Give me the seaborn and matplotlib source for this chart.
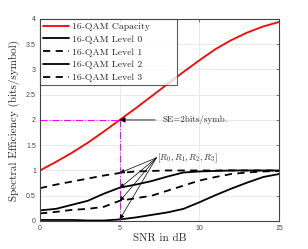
import matplotlib
matplotlib.use("Agg")
import matplotlib.pyplot as plt
import seaborn as sns

# SNR grid and spectral efficiency curves
snr = list(range(16))
capacity = [1.0, 1.17, 1.35, 1.55, 1.77, 2.0, 2.23, 2.47, 2.71, 2.95, 3.18, 3.4, 3.58, 3.73, 3.85, 3.94]
level0 = [0.02, 0.02, 0.02, 0.01, 0.01, 0.03, 0.07, 0.12, 0.17, 0.24, 0.37, 0.51, 0.64, 0.76, 0.87, 0.93]
level1 = [0.15, 0.18, 0.22, 0.24, 0.28, 0.4, 0.45, 0.5, 0.6, 0.7, 0.8, 0.87, 0.93, 0.96, 0.98, 0.99]
level2 = [0.21, 0.24, 0.32, 0.4, 0.54, 0.66, 0.72, 0.79, 0.88, 0.96, 0.98, 0.99, 1.0, 1.0, 1.0, 1.0]
level3 = [0.65, 0.72, 0.78, 0.84, 0.9, 0.95, 0.98, 0.99, 1.0, 1.0, 1.0, 1.0, 1.0, 1.0, 1.0, 1.0]
rate_points = [0.95, 0.65, 0.39, 0.03]

sns.set_style("white")
plt.rcParams["font.family"] = ["cmr10", "DejaVu Serif"]
plt.rcParams["mathtext.fontset"] = "cm"
plt.rcParams["axes.formatter.use_mathtext"] = True

fig = plt.figure(figsize=(3.08, 2.49), dpi=100)
ax = fig.add_axes([0.13, 0.1125, 0.776, 0.8115])

sns.lineplot(x=snr, y=capacity, ax=ax, color="red", lw=1.3, label="16-QAM Capacity")
sns.lineplot(x=snr, y=level0, ax=ax, color="black", lw=1.3, label="16-QAM Level 0")
sns.lineplot(x=snr, y=level1, ax=ax, color="black", lw=1.3, ls=(0, (4, 3)), label="16-QAM Level 1")
sns.lineplot(x=snr, y=level2, ax=ax, color="black", lw=1.3, label="16-QAM Level 2")
sns.lineplot(x=snr, y=level3, ax=ax, color="black", lw=1.3, ls=(0, (4, 3)), label="16-QAM Level 3")

# SE = 2 marker lines
ax.plot([0, 5], [2, 2], color="magenta", lw=0.8, ls="-.")
ax.plot([5, 5], [0, 2], color="magenta", lw=0.8, ls="-.")

ax.annotate("SE=2bits/symb.", xy=(5, 2), xytext=(7.7, 2), fontsize=6.5,
            va="center", ha="left",
            arrowprops=dict(arrowstyle="-|>", color="black", lw=0.6,
                            mutation_scale=8, shrinkA=3, shrinkB=0))
for yp in rate_points:
    ax.annotate("", xy=(5, yp), xytext=(7.3, 1.25),
                arrowprops=dict(arrowstyle="-|>", color="black", lw=0.5,
                                mutation_scale=7, shrinkA=0, shrinkB=0))
ax.text(7.35, 1.24, r"$[R_0, R_1, R_2, R_3]$", fontsize=6.5, va="center", ha="left")

ax.set_xlim(0, 15)
ax.set_ylim(0, 4)
ax.set_xticks([0, 5, 10, 15])
ax.set_yticks([0, 0.5, 1, 1.5, 2, 2.5, 3, 3.5, 4])
ax.set_xticklabels(["0", "5", "10", "15"], family="Liberation Sans", fontsize=5, color="#444444")
ax.set_yticklabels(["0", "0.5", "1", "1.5", "2", "2.5", "3", "3.5", "4"],
                   family="Liberation Sans", fontsize=5, color="#444444")
ax.tick_params(direction="in", length=2.5, width=0.5, top=True, right=True, pad=3, colors="#444444")
ax.grid(True, color="#e6e6e6", lw=0.6)
for sp in ax.spines.values():
    sp.set_color("#444444")
    sp.set_linewidth(0.8)

ax.set_xlabel("SNR in dB", fontsize=8, labelpad=1)
ax.set_ylabel("Spectral Efficiency (bits/symbol)", fontsize=8, labelpad=4)

leg = ax.legend(loc="upper left", bbox_to_anchor=(0.0, 0.5, 0.575, 0.5), mode="expand",
                fontsize=7, frameon=True, fancybox=False,
                handlelength=2.6, borderaxespad=0.0, labelspacing=0.4,
                handletextpad=0.3, borderpad=0.35)
leg.get_frame().set_edgecolor("#333333")
leg.get_frame().set_linewidth(0.8)

fig.savefig("out.png", dpi=100)
